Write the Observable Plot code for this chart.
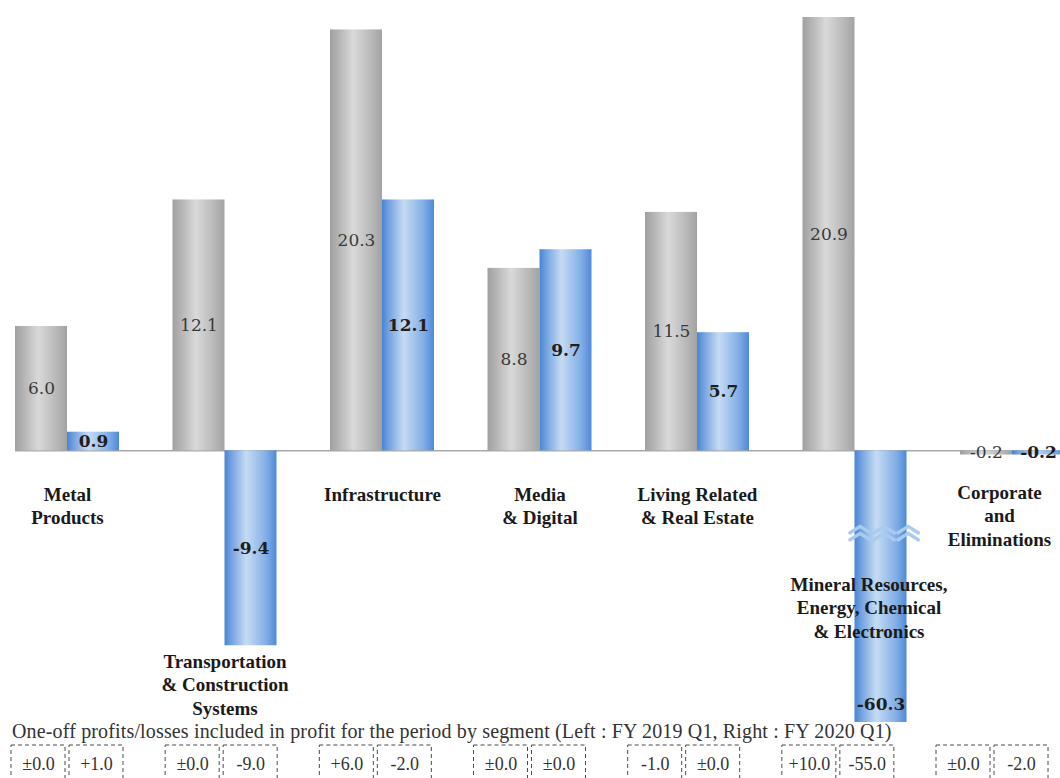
<!DOCTYPE html>
<html><head><meta charset="utf-8">
<script src="https://cdn.jsdelivr.net/npm/d3@7"></script>
<script src="https://cdn.jsdelivr.net/npm/@observablehq/plot@0.6"></script>
<style>
html,body{margin:0;padding:0;background:#fff;overflow:hidden;width:1060px;height:778px;}
#caption{font-family:"Liberation Serif",serif;font-size:20px;letter-spacing:0.15px;color:#333;height:18px;line-height:18px;padding-left:12px;white-space:nowrap;}
svg{display:block}
</style></head><body>
<div id="chart"></div>
<div id="caption"></div>
<div id="boxes"></div>
<script>
// ---- data ----
const segments = ["Metal Products", "Transportation & Construction Systems", "Infrastructure", "Media & Digital", "Living Related & Real Estate", "Mineral Resources, Energy, Chemical & Electronics", "Corporate and Eliminations"];
const segmentLabels = ["Metal\nProducts", "Transportation\n& Construction\nSystems", "Infrastructure", "Media\n& Digital", "Living Related\n& Real Estate", "Mineral Resources,\nEnergy, Chemical\n& Electronics", "Corporate\nand\nEliminations"];
const seriesNames = ["FY 2019 Q1", "FY 2020 Q1"];
const fy2019 = [6.0, 12.1, 20.3, 8.8, 11.5, 20.9, -0.2];
const fy2020 = [0.9, -9.4, 12.1, 9.7, 5.7, -60.3, -0.2];
const oneOff2019 = ["±0.0", "±0.0", "+6.0", "±0.0", "-1.0", "+10.0", "±0.0"];
const oneOff2020 = ["+1.0", "-9.0", "-2.0", "±0.0", "±0.0", "-55.0", "-2.0"];
const captionText = "One-off  profits/losses included in profit for the period by segment (Left : FY 2019 Q1, Right : FY 2020 Q1)";
const yFloor = -13.1;   // lowest visible value (axis is broken below)
const yTop = 20.9;
const breakAt = -4.2;   // where the axis-break symbol sits

// ---- derived tables ----
const lastSeg = segments[segments.length - 1];
const rows = segments.map((s, i) => ({segment: s, label: segmentLabels[i], a: fy2019[i], b: fy2020[i], low: Math.min(0, fy2019[i], fy2020[i])}));
const barsA = rows.map(r => ({segment: r.segment, value: r.a}));
const barsB = rows.map(r => ({segment: r.segment, value: r.b}));

const serif = "'Palatino Linotype','Book Antiqua',Palatino,'Liberation Serif',serif";
const numFont = "'DejaVu Serif',serif";
const labelStyle = {lineAnchor: "top", lineHeight: 1.24, fontFamily: serif, fontSize: 19, fontWeight: "bold", fill: "#1a1a1a"};

const xScale = {type: "band", domain: segments, range: [-11.75, 1090.75], paddingInner: 0.3397, paddingOuter: 0.16985, round: false, axis: null};

const chart = Plot.plot({
  width: 1060, height: 722,
  marginTop: 0, marginBottom: 0, marginLeft: 15, marginRight: 0,
  x: xScale,
  y: {domain: [yFloor, yTop], range: [722, 17], clamp: true, axis: null},
  marks: [
    Plot.ruleY([0], {stroke: "#a8a8a8", strokeWidth: 1.5}),
    Plot.barY(barsA, {x: "segment", y: "value", fill: "url(#gGrey)", insetRight: 52}),
    Plot.barY(barsB, {x: "segment", y: "value", fill: "url(#gBlue)", insetLeft: 52}),
    // value labels
    Plot.text(barsA, {x: "segment", y: d => d.value / 2, text: d => d.value.toFixed(1), dx: -26, fontFamily: numFont, fontSize: 17, fill: "#3a3a3a"}),
    Plot.text(barsB.filter(d => d.value >= yFloor), {x: "segment", y: d => d.value / 2, text: d => d.value.toFixed(1), dx: 26, fontFamily: numFont, fontSize: 17, fontWeight: "bold", fill: "#1e1e1e"}),
    Plot.text(barsB.filter(d => d.value < yFloor), {x: "segment", y: () => yFloor, text: d => d.value.toFixed(1), dx: 26, dy: -18, fontFamily: numFont, fontSize: 17, fontWeight: "bold", fill: "#1e1e1e"}),
    // axis-break symbol (two wavy rows in one text)
    Plot.text(barsB.filter(d => d.value < yFloor), {x: "segment", y: () => breakAt, text: () => "︿︿︿\n︿︿︿", lineHeight: 0.29, dx: 29, dy: -5, fontFamily: "'Noto Sans CJK SC'", fontSize: 24, fill: "#a9cbef", stroke: "#a9cbef", strokeWidth: 1.5}),
    // segment labels
    Plot.text(rows.filter(r => r.low > -1 && r.segment !== lastSeg), {x: "segment", y: () => 0, text: "label", dy: 33, ...labelStyle}),
    Plot.text(rows.filter(r => r.segment === lastSeg), {x: "segment", y: () => 0, text: "label", dy: 31, dx: -13, ...labelStyle}),
    Plot.text(rows.filter(r => r.low <= -1 && r.low >= yFloor), {x: "segment", y: "low", text: "label", dy: 5, ...labelStyle}),
    Plot.text(rows.filter(r => r.low < yFloor), {x: "segment", y: () => breakAt, text: "label", dy: 36, dx: 14, ...labelStyle})
  ]
});

const defs = d3.select(chart).insert("defs", ":first-child");
function grad(id, stops) {
  const g = defs.append("linearGradient").attr("id", id).attr("x1", "0%").attr("x2", "100%").attr("y1", "0%").attr("y2", "0%");
  stops.forEach(([o, c]) => g.append("stop").attr("offset", o).attr("stop-color", c));
}
grad("gGrey", [[0, "#a0a0a0"], [0.15, "#b2b2b2"], [0.45, "#d9d9d9"], [0.8, "#b8b8b8"], [1, "#a2a2a2"]]);
grad("gBlue", [[0, "#4a84d4"], [0.15, "#78a6e2"], [0.42, "#c6dbf3"], [0.8, "#82aee6"], [1, "#4f89d8"]]);
document.getElementById("chart").appendChild(chart);

document.getElementById("caption").textContent = captionText;

const boxes = Plot.plot({
  width: 1060, height: 50,
  marginTop: 5, marginBottom: 0, marginLeft: 0, marginRight: 0,
  x: {type: "band", domain: segments, range: [-10.08, 1069.1], paddingInner: 0.2735, paddingOuter: 0.13675, round: false, axis: null},
  marks: [
    Plot.cell(segments, {x: d => d, fill: "none", stroke: "#4a4a4a", strokeDasharray: "4,3", insetRight: 58}),
    Plot.cell(segments, {x: d => d, fill: "none", stroke: "#4a4a4a", strokeDasharray: "4,3", insetLeft: 58}),
    Plot.text(segments, {x: d => d, text: (d, i) => oneOff2019[i], frameAnchor: "top", dy: 12, dx: -29, fontFamily: serif, fontSize: 18, fill: "#333"}),
    Plot.text(segments, {x: d => d, text: (d, i) => oneOff2020[i], frameAnchor: "top", dy: 12, dx: 29, fontFamily: serif, fontSize: 18, fill: "#333"})
  ]
});
document.getElementById("boxes").appendChild(boxes);
</script></body></html>
